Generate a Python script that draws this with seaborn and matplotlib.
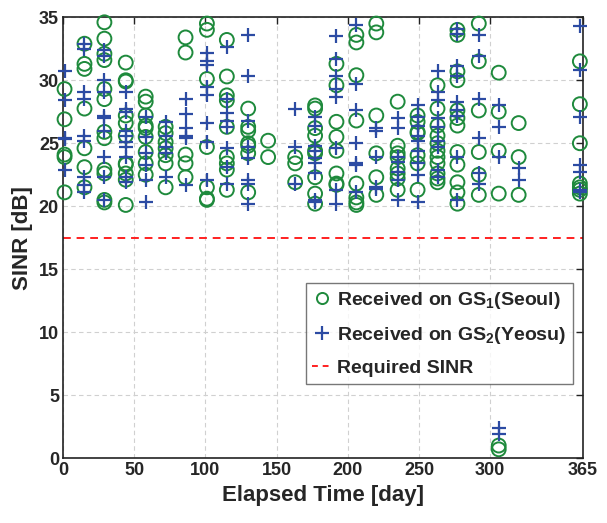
import numpy as np
import pandas as pd
import matplotlib
matplotlib.use("Agg")
import matplotlib.pyplot as plt
from matplotlib.lines import Line2D
import seaborn as sns

# ---------------- data ----------------
days = [1, 15, 29, 44, 58, 72, 86, 101, 115, 130, 144, 163, 177, 192,
        206, 220, 235, 249, 263, 277, 292, 306, 320, 363]

seoul_sinr = [
    [29.3, 26.9, 24.1, 23.9, 21.1],
    [32.9, 31.3, 30.9, 27.75, 24.6, 23.1, 21.5],
    [34.6, 33.3, 32.1, 31.6, 29.3, 28.5, 25.9, 25.4, 22.9, 22.6, 20.5, 20.3],
    [31.4, 30.0, 29.9, 27.2, 26.6, 25.6, 23.4, 23.3, 22.6, 22.1, 20.1],
    [28.7, 28.3, 27.2, 26.4, 26.2, 25.5, 24.3, 23.4, 22.5],
    [26.3, 25.8, 25.1, 24.6, 24.05, 23.4, 21.5],
    [33.4, 32.2, 24.1, 23.4, 22.3],
    [34.5, 34.0, 30.1, 24.7, 21.5, 20.6, 20.5],
    [33.2, 30.3, 28.8, 28.4, 26.3, 23.9, 23.4, 22.9, 21.3],
    [27.75, 26.3, 26.0, 25.0, 24.8, 24.2, 21.1],
    [25.2, 23.9],
    [23.9, 23.4, 21.9],
    [28.0, 27.75, 26.2, 25.6, 24.4, 24.2, 22.3, 21.0, 20.2],
    [31.3, 29.6, 26.7, 25.5, 24.4, 22.6, 21.8, 21.7],
    [33.6, 33.0, 30.4, 26.8, 21.8, 20.7, 20.3, 20.1],
    [34.5, 33.8, 27.2, 24.2, 22.3, 20.9],
    [28.3, 24.8, 24.2, 23.9, 23.0, 22.6, 22.2, 21.3],
    [27.2, 26.7, 25.9, 25.8, 24.05, 23.4, 21.3],
    [29.6, 27.75, 26.4, 25.6, 25.0, 24.4, 23.9, 23.4, 22.6, 22.2, 21.9],
    [34.0, 33.6, 30.7, 30.0, 27.6, 27.0, 26.4, 24.3, 23.3, 21.9, 21.1, 20.2],
    [34.5, 31.5, 27.6, 24.3, 22.5, 20.9],
    [30.6, 27.5, 24.4, 21.0, 1.0, 0.7],
    [26.6, 23.9, 20.9],
    [31.5, 28.1, 25.0, 21.8, 21.5, 21.3, 21.0],
]

yeosu_sinr = [
    [30.7, 28.4, 25.4, 25.3, 22.9],
    [32.9, 32.5, 29.1, 28.5, 25.6, 25.2, 22.3, 21.7, 21.1],
    [32.4, 31.9, 30.0, 29.1, 27.2, 27.0, 26.0, 23.9, 22.3, 20.5],
    [29.1, 27.75, 27.5, 26.0, 25.6, 25.1, 24.7, 23.9, 22.3, 21.9],
    [27.1, 25.5, 24.2, 23.3, 22.1, 20.3],
    [26.7, 25.6, 24.7, 24.2, 22.3],
    [28.5, 27.3, 26.2, 25.6, 25.4, 21.7],
    [32.2, 31.5, 31.2, 29.5, 28.8, 26.6, 25.1, 22.1],
    [32.6, 28.5, 27.4, 26.8, 26.3, 24.6, 23.1, 21.8],
    [33.6, 30.3, 26.8, 24.7, 23.8, 22.1, 21.8, 20.2],
    [],
    [27.75, 24.7, 21.8],
    [27.1, 26.4, 24.8, 24.4, 23.8, 23.4, 22.6, 20.5, 20.3],
    [33.5, 31.7, 30.3, 29.3, 28.7, 24.6, 21.3, 20.2],
    [34.4, 29.7, 27.6, 25.0, 23.4, 23.3, 21.1],
    [26.2, 26.0, 23.9, 21.5, 21.4],
    [27.0, 26.2, 23.9, 23.5, 22.7, 22.1, 20.5],
    [28.0, 27.1, 26.4, 25.6, 25.2, 24.4, 23.4, 22.5, 20.3],
    [30.7, 29.1, 28.4, 27.0, 26.3, 25.2, 24.7, 22.9, 22.3],
    [34.1, 33.7, 31.1, 30.3, 28.3, 27.6, 27.2, 23.9, 20.5],
    [33.6, 31.9, 28.5, 25.4, 22.6, 21.8],
    [28.0, 26.3, 23.9, 2.4, 1.9],
    [23.0, 22.1],
    [34.3, 30.8, 27.1, 23.3, 22.7, 21.3, 21.1],
]

required_sinr = 17.5
x_ticks = [0, 50, 100, 150, 200, 250, 300, 365]
y_ticks = [0, 5, 10, 15, 20, 25, 30, 35]
legend_labels = [r"Received on GS$_\mathbf{1}$(Seoul)",
                 r"Received on GS$_\mathbf{2}$(Yeosu)",
                 "Required SINR"]

# ---------------- frames ----------------
def to_frame(vals):
    xs, ys = [], []
    for d, col in zip(days, vals):
        xs += [d] * len(col)
        ys += col
    return pd.DataFrame({"day": xs, "sinr": ys})

df_seoul = to_frame(seoul_sinr)
df_yeosu = to_frame(yeosu_sinr)

# ---------------- style ----------------
sns.set_theme(style="white")
plt.rcParams["font.family"] = ["Liberation Sans", "DejaVu Sans"]
plt.rcParams["font.weight"] = "bold"
plt.rcParams["mathtext.fontset"] = "custom"
plt.rcParams["mathtext.rm"] = "Liberation Sans:bold"
plt.rcParams["mathtext.bf"] = "Liberation Sans:bold"
plt.rcParams["mathtext.default"] = "bf"

green = "#1E8A3C"
blue = "#2C4BA3"
red = "#FF2020"

fig = plt.figure(figsize=(6.07, 5.23), dpi=100)
ax = fig.add_axes([0.104, 0.124, 0.856, 0.843])

sns.scatterplot(data=df_seoul, x="day", y="sinr", marker="o", s=100,
                color=green, linewidth=1.4, ax=ax, legend=False, zorder=3,
                clip_on=False)
ax.collections[-1].set_facecolor("none")
ax.collections[-1].set_edgecolor(green)

sns.scatterplot(data=df_yeosu, x="day", y="sinr", marker="+", s=115,
                color=blue, linewidth=1.6, ax=ax, legend=False, zorder=4,
                clip_on=False)

ax.axhline(required_sinr, color=red, ls=(0, (4, 3)), lw=1.4, zorder=2)

ax.set_xlim(0, 365)
ax.set_ylim(0, 35)
ax.set_xticks(x_ticks)
ax.set_yticks(y_ticks)
ax.tick_params(axis="both", which="major", direction="in", length=5,
               width=1.0, labelsize=13, top=True, right=True, pad=3,
               color="#222222")
for lab in ax.get_xticklabels() + ax.get_yticklabels():
    lab.set_fontweight("bold")
ax.set_xlabel("Elapsed Time [day]", fontsize=16, fontweight="bold", labelpad=4)
ax.set_ylabel("SINR [dB]", fontsize=16, fontweight="bold", labelpad=4)

ax.grid(True, color="#d0d0d0", ls=(0, (4, 3)), lw=0.8, zorder=0)
for sp in ax.spines.values():
    sp.set_color("#222222")
    sp.set_linewidth(1.2)

handles = [
    Line2D([], [], marker="o", ls="none", mfc="none", mec=green, ms=8, mew=1.4),
    Line2D([], [], marker="+", ls="none", color=blue, ms=10, mew=1.6),
    Line2D([], [], ls=(0, (3, 2.5)), color=red, lw=1.4),
]
leg = ax.legend(handles, legend_labels, loc="upper right",
                bbox_to_anchor=(0.981, 0.397), borderaxespad=0,
                fontsize=14, frameon=True, fancybox=False,
                handlelength=1.0, handletextpad=0.25, labelspacing=0.7,
                borderpad=0.35)
leg.get_frame().set_edgecolor("#555555")
leg.get_frame().set_linewidth(1.0)
for t in leg.get_texts():
    t.set_fontweight("bold")

fig.savefig("out.png", dpi=100, facecolor="white")
